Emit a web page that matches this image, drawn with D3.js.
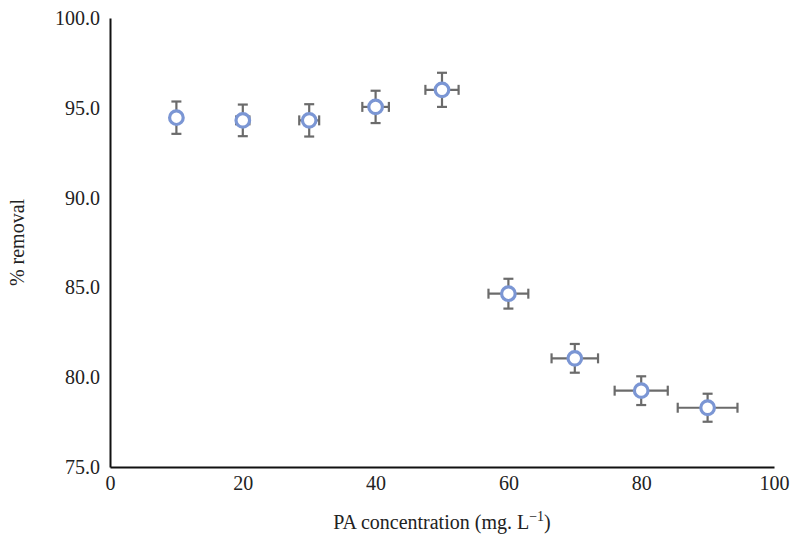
<!DOCTYPE html>
<html><head><meta charset="utf-8">
<script src="https://cdn.jsdelivr.net/npm/d3@7"></script>
<style>body{margin:0;background:#fff}svg{display:block}text{font-family:"Liberation Serif","DejaVu Serif",serif;fill:#222}</style>
</head><body><svg id="c" width="793" height="539"></svg>
<script>
const conc = [10,20,30,40,50,60,70,80,90];
const removal = [94.45,94.3,94.3,95.05,96.0,84.65,81.05,79.25,78.3];
const yErr = [0.9,0.88,0.9,0.9,0.95,0.83,0.8,0.8,0.78];
const xErr = [0.5,1.0,1.5,2.0,2.5,3.0,3.5,4.0,4.5];
const xTicks = [0,20,40,60,80,100];
const yTicks = [75,80,85,90,95,100];

const svg = d3.select("#c");
const m = {l:110,r:19,t:18,b:72};
const W = 793, H = 539;
const x = d3.scaleLinear().domain([0,100]).range([m.l, W-m.r]);
const y = d3.scaleLinear().domain([75,100]).range([H-m.b, m.t]);
const fs = "20px";

const xa = svg.append("g").attr("transform",`translate(0,${H-m.b})`)
  .call(d3.axisBottom(x).tickValues(xTicks).tickSize(0).tickPadding(9).tickFormat(d3.format("d")));
const ya = svg.append("g").attr("transform",`translate(${m.l},0)`)
  .call(d3.axisLeft(y).tickValues(yTicks).tickSize(0).tickPadding(10).tickFormat(d3.format(".1f")));
[xa,ya].forEach(a=>{a.select(".domain").attr("stroke","#111").attr("stroke-width",2);
  a.selectAll("text").style("font-size",fs).attr("fill","#222").style("font-family","Liberation Serif");});

const data = conc.map((c,i)=>({c, r:removal[i], ye:yErr[i], xe:xErr[i]}));
const eb = svg.append("g").attr("stroke","#6b6b6b").attr("stroke-width",2.2);
const cap = 5;
data.forEach(d=>{
  eb.append("line").attr("x1",x(d.c)).attr("x2",x(d.c)).attr("y1",y(d.r+d.ye)).attr("y2",y(d.r-d.ye));
  eb.append("line").attr("x1",x(d.c)-cap).attr("x2",x(d.c)+cap).attr("y1",y(d.r+d.ye)).attr("y2",y(d.r+d.ye));
  eb.append("line").attr("x1",x(d.c)-cap).attr("x2",x(d.c)+cap).attr("y1",y(d.r-d.ye)).attr("y2",y(d.r-d.ye));
  eb.append("line").attr("x1",x(d.c-d.xe)).attr("x2",x(d.c+d.xe)).attr("y1",y(d.r)).attr("y2",y(d.r));
  eb.append("line").attr("x1",x(d.c-d.xe)).attr("x2",x(d.c-d.xe)).attr("y1",y(d.r)-cap).attr("y2",y(d.r)+cap);
  eb.append("line").attr("x1",x(d.c+d.xe)).attr("x2",x(d.c+d.xe)).attr("y1",y(d.r)-cap).attr("y2",y(d.r)+cap);
});
svg.append("g").selectAll("circle").data(data).join("circle")
  .attr("cx",d=>x(d.c)).attr("cy",d=>y(d.r)).attr("r",6.8)
  .attr("fill","#fff").attr("stroke","#7b96d4").attr("stroke-width",3.2);

svg.append("text").attr("transform",`translate(24,${(m.t+H-m.b)/2}) rotate(-90)`)
  .attr("text-anchor","middle").style("font-size",fs).text("% removal");
const xl = svg.append("text").attr("x",(m.l+W-m.r)/2).attr("y",529).attr("text-anchor","middle").style("font-size",fs);
xl.append("tspan").text("PA concentration (mg. L");
xl.append("tspan").attr("dy",-8).style("font-size","14px").text("\u22121");
xl.append("tspan").attr("dy",8).text(")");
</script></body></html>
